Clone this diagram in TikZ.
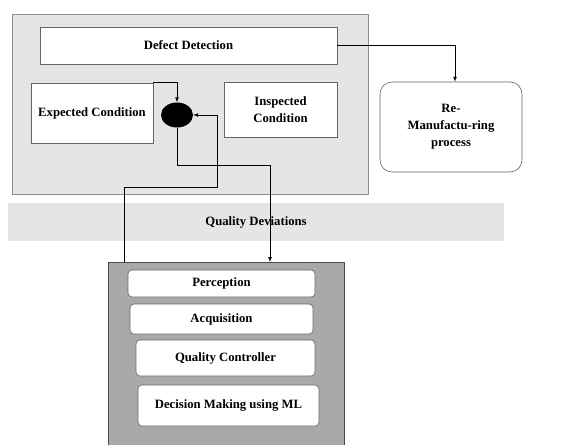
\documentclass[tikz,border=0pt]{standalone}
\usepackage{fontspec}
\setmainfont{Liberation Serif}
\usetikzlibrary{shapes.geometric}
\definecolor{panel}{HTML}{E6E5E6}
\definecolor{darkpanel}{HTML}{ABA8A8}
\tikzset{
  box/.style={draw=gray!80!black, fill=white, line width=0.6pt, inner sep=2pt, align=center},
  rbox/.style={box, rounded corners=4pt},
}
\begin{document}
\begin{tikzpicture}[x=1pt,y=-1pt,>=latex,font=\bfseries\fontsize{12.7}{17}\selectfont]
\useasboundingbox (0,0) rectangle (580,444);
% panels
\node[draw=gray!90, fill=panel, line width=0.8pt, minimum width=356pt, minimum height=180pt] (top) at (190,104) {};
\node[fill=panel, minimum width=496pt, minimum height=38pt] (dev) at (256,222) {Quality Deviations};
\node[draw=gray!60!black, fill=darkpanel, line width=0.8pt, minimum width=236pt, minimum height=190pt, anchor=north] (ctrl) at (226,262) {};
% boxes in the top panel
\node[box, minimum width=297pt, minimum height=37pt] (defect) at (188.5,45.5) {Defect Detection};
\node[box, minimum width=122pt, minimum height=60pt] (expected) at (92,113) {Expected Condition};
\node[box, minimum width=113pt, minimum height=55pt] (inspected) at (280.5,109.5) {Inspected\\Condition};
\node[ellipse, fill=black, minimum width=32pt, minimum height=25pt, inner sep=0pt] (join) at (177,115) {};
\node[box, rounded corners=12pt, minimum width=142pt, minimum height=90pt] (remanu) at (451,127) {Re-\\Manufactu-ring\\process};
% boxes in the lower panel
\node[rbox, minimum width=187pt, minimum height=27pt] (perception) at (221.5,283.5) {Perception};
\node[rbox, minimum width=183pt, minimum height=30pt] (acquisition) at (221.5,319) {Acquisition};
\node[rbox, minimum width=179pt, minimum height=36pt] (controller) at (225.5,358) {Quality Controller};
\node[rbox, minimum width=181pt, minimum height=41pt] (decision) at (228.5,405.5) {Decision Making using ML};
% connectors
\coordinate (dv1) at (270,165);
\coordinate (fb1) at (124,187);
\coordinate (fb2) at (217,187);
\draw[->, line width=0.7pt] (defect.east) -| ([xshift=4pt]remanu.north);
\draw[->, line width=0.7pt] (expected.north east) -| (join.north);
\draw[->, line width=0.7pt] (join.south) |- (dv1) -- (dv1 |- ctrl.north);
\draw[->, line width=0.7pt] (ctrl.north -| fb1) -- (fb1) -- (fb2) |- (join.east);
\end{tikzpicture}
\end{document}
